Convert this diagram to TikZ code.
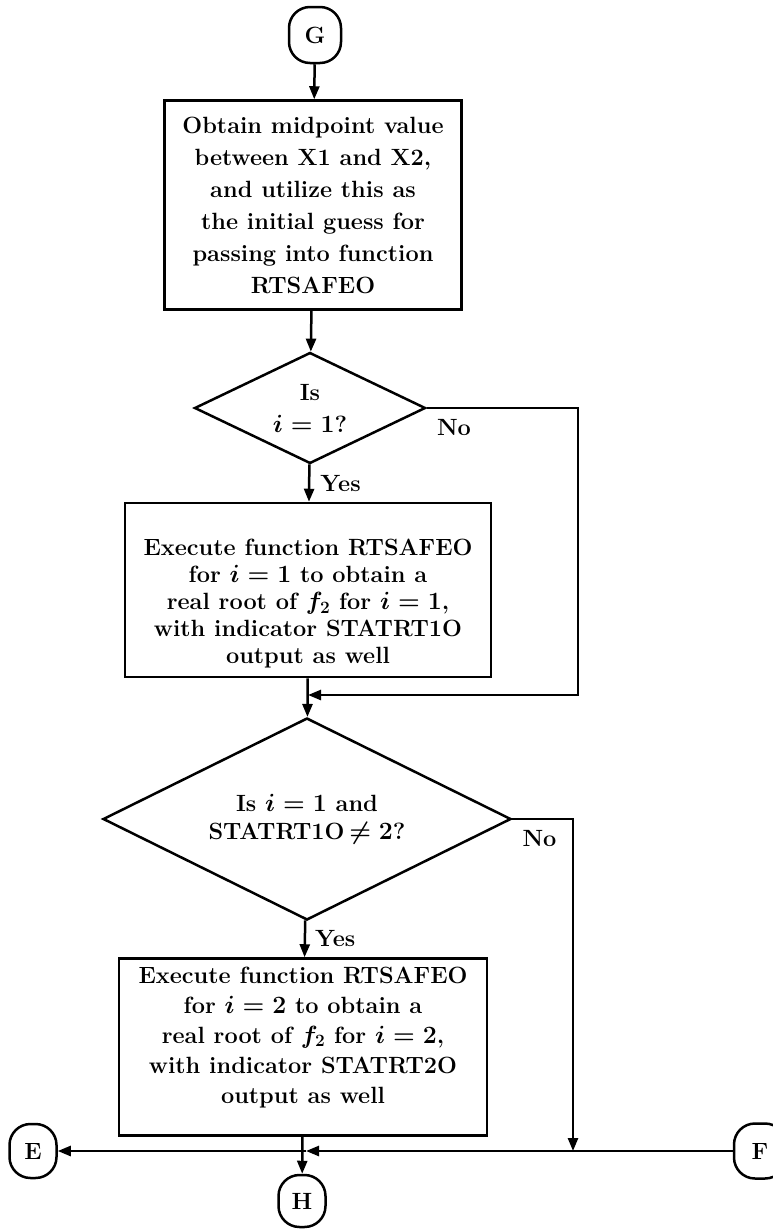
\documentclass[tikz,border=0pt]{standalone}
\usepackage{amsmath}
\usepackage{fontspec}
\usetikzlibrary{shapes.geometric,arrows.meta}
\begin{document}
\begin{tikzpicture}[x=1pt,y=-1pt,
  line width=2.5pt,
  arr/.style={-{Triangle[length=13pt,width=10pt]}},
  bfont/.style={font=\fontsize{23.5}{#1}\selectfont\bfseries\boldmath},
  procbox/.style={draw, rectangle, align=center, inner sep=0pt},
  decbox/.style={draw, diamond, aspect=2, align=center, inner sep=0pt},
  conn/.style={draw, rectangle, rounded corners=21pt, inner sep=0pt},
  lbl/.style={font=\fontsize{23.5}{28}\selectfont\bfseries, inner sep=0pt}
]
\useasboundingbox (0,0) rectangle (773,1229);

\node[conn, minimum width=52pt, minimum height=56pt, bfont=28] (G) at (315,35) {G};

\node[procbox, minimum width=297pt, minimum height=209pt, bfont=32] (box1) at (313,205)
  {Obtain midpoint value\\between X1 and X2,\\and utilize this as\\the initial guess for\\passing into function\\RTSAFEO};

\node[decbox, minimum width=231pt, minimum height=111pt, bfont=32] (d1) at (310,408)
  {Is\\$i=1$?};

\node[procbox, minimum width=366pt, minimum height=174pt, bfont=27] (box2) at (308,590)
  {\rule{0pt}{44pt}Execute function RTSAFEO\\for $i=1$ to obtain a\\real root of $f_2$ for $i=1$,\\with indicator STATRT1O\\output as well};

\node[decbox, minimum width=408pt, minimum height=202pt, bfont=28] (d2) at (307,819)
  {Is $i=1$ and\\STATRT1O$\,\neq 2$?};

\node[procbox, minimum width=368pt, minimum height=177pt, bfont=30] (box3) at (303,1047)
  {Execute function RTSAFEO\\for $i=2$ to obtain a\\real root of $f_2$ for $i=2$,\\with indicator STATRT2O\\output as well\rule[-24pt]{0pt}{0pt}};

\node[conn, minimum width=47pt, minimum height=54pt, bfont=28] (E) at (33,1151) {E};
\node[conn, minimum width=47pt, minimum height=52pt, bfont=28] (H) at (302,1201) {H};
\node[conn, minimum width=52pt, minimum height=55pt, bfont=28] (F) at (760,1151) {F};

\coordinate (r1) at (578,695);
\coordinate (m1) at (308,695);
\coordinate (r2) at (573,1151);
\coordinate (m2) at (306,1151);

\draw[arr] (G) -- (box1);
\draw[arr] (box1) -- (d1);
\draw[arr] (d1) -- node[lbl, anchor=west, xshift=10pt] {Yes} (box2);
\draw[arr] (d1.east) node[lbl, anchor=west, xshift=9pt, yshift=-20pt] {No} -| (r1) -- (m1);
\draw[arr] (box2) -- (d2);
\draw[arr] (d2) -- node[lbl, anchor=west, xshift=9pt] {Yes} (box3);
\draw[arr] (d2.east) node[lbl, anchor=west, xshift=9pt, yshift=-19pt] {No} -| (r2);
\draw[arr] (box3) -- (H);
\draw[arr] (F) -- (m2);
\draw[arr] (m2) -- (E);
\end{tikzpicture}
\end{document}
